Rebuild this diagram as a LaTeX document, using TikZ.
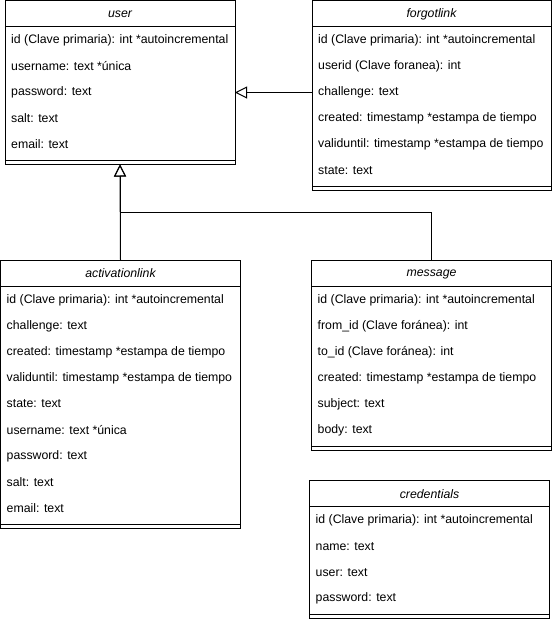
\documentclass[tikz,border=0pt]{standalone}
\usepackage{fontspec}
\setmainfont{Liberation Sans}
\usetikzlibrary{arrows.meta}

\tikzset{
  classbox/.style={draw, line width=1pt, inner sep=0pt, outer sep=0pt, anchor=north west},
  rowtext/.style={anchor=west, inner sep=0pt, font=\fontsize{12.3}{14}\selectfont},
  titletext/.style={inner sep=0pt, font=\fontsize{12.3}{14}\selectfont\itshape},
  inherit/.style={draw, line width=1pt, -{Triangle[open, length=12pt, width=12pt]}},
}

% #1 name, #2 left, #3 top, #4 width, #5 title, #6 number of rows, #7 rows
\newcommand{\umlclass}[7]{%
  \pgfmathsetmacro{\boxh}{26+26*#6+8}
  \node[classbox, minimum width=#4pt, minimum height=\boxh pt] (#1) at (#2,#3) {};
  \draw[line width=1pt] (#1.north west) ++(0,26) -- ++(#4,0);
  \draw[line width=1pt] ([yshift=4pt]#1.south west) -- ([yshift=4pt]#1.south east);
  \node[titletext] (#1-title) at ([yshift=-13.5pt]#1.north) {#5};
  \foreach \r [count=\i from 0] in {#7} {
    \node[rowtext] (#1-\i) at (#2+6, #3+40+26*\i) {\r};
  }
}

\begin{document}
\begin{tikzpicture}[x=1pt, y=-1pt]
  \useasboundingbox (0,0) rectangle (552,621);

  \umlclass{user}{5}{0.5}{230}{user}{5}{%
    id (Clave primaria): int *autoincremental,
    username: text *única,
    password: text,
    salt: text,
    email: text}

  \umlclass{forgotlink}{312}{0.5}{239}{forgotlink}{6}{%
    id (Clave primaria): int *autoincremental,
    userid (Clave foranea): int,
    challenge: text,
    created: timestamp *estampa de tiempo,
    validuntil: timestamp *estampa de tiempo,
    state: text}

  \umlclass{activationlink}{0.5}{260}{240}{activationlink}{9}{%
    id (Clave primaria): int *autoincremental,
    challenge: text,
    created: timestamp *estampa de tiempo,
    validuntil: timestamp *estampa de tiempo,
    state: text,
    username: text *única,
    password: text,
    salt: text,
    email: text}

  \umlclass{message}{311.5}{260.5}{240}{message}{6}{%
    id (Clave primaria): int *autoincremental,
    from\_id (Clave foránea): int,
    to\_id (Clave foránea): int,
    created: timestamp *estampa de tiempo,
    subject: text,
    body: text}

  \umlclass{credentials}{309.5}{480.5}{240}{credentials}{4}{%
    id (Clave primaria): int *autoincremental,
    name: text,
    user: text,
    password: text}

  % generalisation connectors
  \draw[inherit] (activationlink.north) -- (user.south);
  \draw[inherit] (message.north) -- ++(0,-48) -| (user.south);
  \draw[inherit] (forgotlink-2 -| forgotlink.west) -- (forgotlink-2 -| user.east);
\end{tikzpicture}
\end{document}
